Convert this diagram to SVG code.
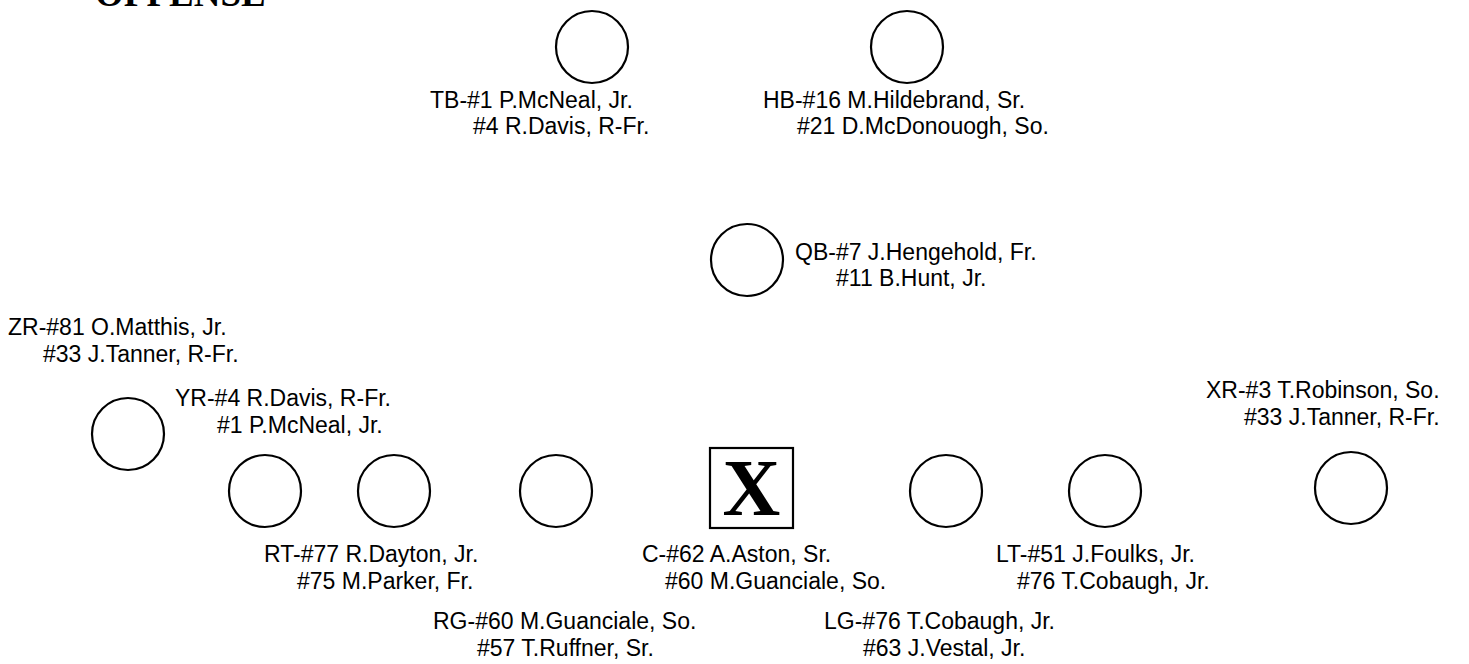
<svg xmlns="http://www.w3.org/2000/svg" width="1469" height="664" viewBox="0 0 1469 664">
<style>
.bg{fill:#ffffff}
.p{fill:none;stroke:#000;stroke-width:2.2}
.t{font-family:"Liberation Sans",Arial,sans-serif;font-size:23px;fill:#000}
.title{font-family:"Liberation Serif","Times New Roman",serif;font-size:37px;font-weight:bold;fill:#000}
.x{font-family:"Liberation Serif","Times New Roman",serif;font-size:80px;font-weight:bold;fill:#000}
</style>
<rect class="bg" x="0" y="0" width="1469" height="664"/>
<text class="title" x="95" y="6">OFFENSE</text>

<g id="TB">
<circle class="p" cx="592" cy="47" r="36"/>
<text class="t" x="430" y="108">TB-#1 P.McNeal, Jr.</text>
<text class="t" x="473" y="134">#4 R.Davis, R-Fr.</text>
</g>
<g id="HB">
<circle class="p" cx="907" cy="47" r="36"/>
<text class="t" x="763" y="108">HB-#16 M.Hildebrand, Sr.</text>
<text class="t" x="797" y="134">#21 D.McDonouogh, So.</text>
</g>
<g id="QB">
<circle class="p" cx="747" cy="260" r="36"/>
<text class="t" x="795" y="260">QB-#7 J.Hengehold, Fr.</text>
<text class="t" x="836" y="286">#11 B.Hunt, Jr.</text>
</g>
<g id="ZR">
<circle class="p" cx="128" cy="434" r="36"/>
<text class="t" x="8" y="335">ZR-#81 O.Matthis, Jr.</text>
<text class="t" x="43" y="362">#33 J.Tanner, R-Fr.</text>
</g>
<g id="YR">
<circle class="p" cx="265" cy="491" r="36"/>
<text class="t" x="175" y="406">YR-#4 R.Davis, R-Fr.</text>
<text class="t" x="217" y="433">#1 P.McNeal, Jr.</text>
</g>
<g id="RT">
<circle class="p" cx="394" cy="491" r="36"/>
<text class="t" x="264" y="562">RT-#77 R.Dayton, Jr.</text>
<text class="t" x="297" y="589">#75 M.Parker, Fr.</text>
</g>
<g id="RG">
<circle class="p" cx="556" cy="491" r="36"/>
<text class="t" x="433" y="629">RG-#60 M.Guanciale, So.</text>
<text class="t" x="477" y="656">#57 T.Ruffner, Sr.</text>
</g>
<g id="C">
<rect class="p" x="710" y="448" width="83" height="80"/>
<text class="x" x="751.5" y="515" text-anchor="middle">X</text>
<text class="t" x="642" y="562">C-#62 A.Aston, Sr.</text>
<text class="t" x="665" y="589">#60 M.Guanciale, So.</text>
</g>
<g id="LG">
<circle class="p" cx="946" cy="491" r="36"/>
<text class="t" x="824" y="629">LG-#76 T.Cobaugh, Jr.</text>
<text class="t" x="863" y="656">#63 J.Vestal, Jr.</text>
</g>
<g id="LT">
<circle class="p" cx="1105" cy="491" r="36"/>
<text class="t" x="996" y="562">LT-#51 J.Foulks, Jr.</text>
<text class="t" x="1017" y="589">#76 T.Cobaugh, Jr.</text>
</g>
<g id="XR">
<circle class="p" cx="1351" cy="488" r="36"/>
<text class="t" x="1206" y="398">XR-#3 T.Robinson, So.</text>
<text class="t" x="1244" y="425">#33 J.Tanner, R-Fr.</text>
</g>
</svg>
